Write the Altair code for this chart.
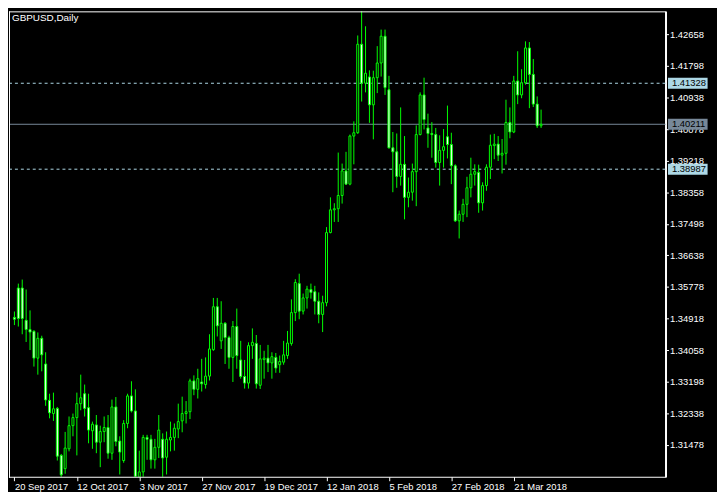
import json
import altair as alt
import pandas as pd

# ---- daily GBPUSD candles (bar index 0 = 20 Sep 2017) ----
opens = [1.3495, 1.3575, 1.3575, 1.3487, 1.3462, 1.3457, 1.3384, 1.3438, 1.3368, 1.3269,
         1.3233, 1.3247, 1.3119, 1.3083, 1.3137, 1.3200, 1.3222, 1.3260, 1.3287, 1.3249,
         1.3186, 1.3202, 1.3155, 1.3184, 1.3195, 1.3125, 1.3251, 1.3158, 1.3105, 1.3206,
         1.3281, 1.3240, 1.3060, 1.3074, 1.3168, 1.3163, 1.3107, 1.3141, 1.3163, 1.3114,
         1.3161, 1.3168, 1.3191, 1.3213, 1.3233, 1.3238, 1.3322, 1.3299, 1.3319, 1.3312,
         1.3335, 1.3407, 1.3524, 1.3431, 1.3479, 1.3440, 1.3386, 1.3470, 1.3379, 1.3334,
         1.3316, 1.3418, 1.3424, 1.3310, 1.3380, 1.3384, 1.3371, 1.3386, 1.3366, 1.3373,
         1.3391, 1.3424, 1.3508, 1.3587, 1.3512, 1.3548, 1.3571, 1.3565, 1.3539, 1.3503,
         1.3535, 1.3726, 1.3788, 1.3791, 1.3827, 1.3894, 1.3858, 1.3989, 1.3998, 1.4239,
         1.4133, 1.4150, 1.4074, 1.4148, 1.4188, 1.4261, 1.4115, 1.3957, 1.3946, 1.3879,
         1.3912, 1.3822, 1.3836, 1.3892, 1.3993, 1.4101, 1.4011, 1.3996, 1.3993, 1.3917,
         1.3950, 1.3987, 1.3966, 1.3908, 1.3758, 1.3776, 1.3803, 1.3848, 1.3885, 1.3890,
         1.3807, 1.3854, 1.3904, 1.3963, 1.3967, 1.3937, 1.3942, 1.4026, 1.4000, 1.4139,
         1.4101, 1.4134, 1.4229, 1.4157, 1.4076, 1.4017]
highs = [1.3511, 1.3587, 1.3598, 1.3571, 1.3514, 1.3460, 1.3454, 1.3445, 1.3400, 1.3287,
         1.3290, 1.3251, 1.3123, 1.3183, 1.3225, 1.3233, 1.3290, 1.3339, 1.3312, 1.3287,
         1.3211, 1.3229, 1.3200, 1.3225, 1.3229, 1.3271, 1.3278, 1.3171, 1.3215, 1.3287,
         1.3321, 1.3299, 1.3132, 1.3175, 1.3175, 1.3175, 1.3164, 1.3229, 1.3179, 1.3184,
         1.3211, 1.3206, 1.3260, 1.3279, 1.3267, 1.3328, 1.3337, 1.3355, 1.3382, 1.3386,
         1.3449, 1.3548, 1.3548, 1.3539, 1.3482, 1.3445, 1.3485, 1.3519, 1.3431, 1.3379,
         1.3427, 1.3465, 1.3447, 1.3420, 1.3404, 1.3420, 1.3400, 1.3398, 1.3391, 1.3431,
         1.3458, 1.3544, 1.3599, 1.3614, 1.3560, 1.3581, 1.3587, 1.3581, 1.3563, 1.3554,
         1.3741, 1.3822, 1.3806, 1.3944, 1.3914, 1.3946, 1.3993, 1.4029, 1.4263, 1.4346,
         1.4288, 1.4168, 1.4167, 1.4234, 1.4279, 1.4279, 1.4153, 1.4000, 1.3996, 1.4067,
         1.3989, 1.3876, 1.3914, 1.4018, 1.4108, 1.4148, 1.4050, 1.4027, 1.4011, 1.3991,
         1.4008, 1.4072, 1.3998, 1.3912, 1.3786, 1.3818, 1.3878, 1.3930, 1.3912, 1.3911,
         1.3863, 1.3912, 1.3993, 1.3995, 1.3989, 1.3981, 1.4088, 1.4067, 1.4153, 1.4220,
         1.4171, 1.4247, 1.4245, 1.4199, 1.4097, 1.4061]
lows = [1.3474, 1.3470, 1.3449, 1.3428, 1.3406, 1.3361, 1.3339, 1.3348, 1.3254, 1.3220,
        1.3213, 1.3105, 1.3027, 1.3069, 1.3130, 1.3171, 1.3119, 1.3242, 1.3225, 1.3152,
        1.3137, 1.3125, 1.3087, 1.3155, 1.3110, 1.3107, 1.3144, 1.3067, 1.3099, 1.3193,
        1.3236, 1.3040, 1.3040, 1.3052, 1.3107, 1.3083, 1.3083, 1.3112, 1.3058, 1.3067,
        1.3130, 1.3132, 1.3166, 1.3182, 1.3206, 1.3218, 1.3283, 1.3274, 1.3293, 1.3301,
        1.3323, 1.3404, 1.3443, 1.3409, 1.3368, 1.3355, 1.3319, 1.3355, 1.3328, 1.3301,
        1.3301, 1.3382, 1.3301, 1.3300, 1.3328, 1.3346, 1.3328, 1.3344, 1.3344, 1.3366,
        1.3382, 1.3418, 1.3485, 1.3490, 1.3503, 1.3519, 1.3546, 1.3503, 1.3479, 1.3455,
        1.3525, 1.3724, 1.3755, 1.3755, 1.3805, 1.3857, 1.3855, 1.3912, 1.3995, 1.4083,
        1.4108, 1.4025, 1.3980, 1.4106, 1.4151, 1.4101, 1.3955, 1.3836, 1.3848, 1.3854,
        1.3762, 1.3795, 1.3813, 1.3798, 1.3991, 1.4007, 1.3957, 1.3930, 1.3903, 1.3854,
        1.3903, 1.3928, 1.3858, 1.3755, 1.3710, 1.3755, 1.3768, 1.3822, 1.3854, 1.3780,
        1.3786, 1.3840, 1.3872, 1.3926, 1.3921, 1.3887, 1.3911, 1.3983, 1.3997, 1.4076,
        1.4092, 1.4129, 1.4065, 1.4068, 1.4011, 1.4011]
closes = [1.3490, 1.3492, 1.3492, 1.3462, 1.3455, 1.3384, 1.3438, 1.3393, 1.3270, 1.3235,
          1.3246, 1.3117, 1.3066, 1.3139, 1.3200, 1.3222, 1.3260, 1.3276, 1.3247, 1.3188,
          1.3204, 1.3155, 1.3184, 1.3195, 1.3125, 1.3251, 1.3157, 1.3128, 1.3206, 1.3281,
          1.3240, 1.3062, 1.3074, 1.3168, 1.3163, 1.3107, 1.3141, 1.3188, 1.3112, 1.3163,
          1.3168, 1.3193, 1.3211, 1.3233, 1.3238, 1.3322, 1.3299, 1.3328, 1.3314, 1.3335,
          1.3409, 1.3524, 1.3472, 1.3479, 1.3440, 1.3386, 1.3470, 1.3391, 1.3334, 1.3316,
          1.3418, 1.3427, 1.3314, 1.3382, 1.3384, 1.3371, 1.3388, 1.3357, 1.3375, 1.3393,
          1.3425, 1.3508, 1.3590, 1.3512, 1.3548, 1.3572, 1.3563, 1.3539, 1.3503, 1.3535,
          1.3726, 1.3788, 1.3791, 1.3827, 1.3894, 1.3858, 1.3989, 1.3998, 1.4239, 1.4133,
          1.4160, 1.4074, 1.4148, 1.4188, 1.4261, 1.4121, 1.3957, 1.3946, 1.3879, 1.3912,
          1.3822, 1.3836, 1.3892, 1.3993, 1.4101, 1.4034, 1.3996, 1.3993, 1.3917, 1.3950,
          1.3960, 1.3966, 1.3908, 1.3758, 1.3776, 1.3803, 1.3848, 1.3885, 1.3892, 1.3807,
          1.3854, 1.3904, 1.3964, 1.3967, 1.3937, 1.3942, 1.4026, 1.4000, 1.4139, 1.4101,
          1.4134, 1.4229, 1.4157, 1.4076, 1.4017, 1.4021]

date_labels = ["20 Sep 2017", "12 Oct 2017", "3 Nov 2017", "27 Nov 2017", "19 Dec 2017",
               "12 Jan 2018", "5 Feb 2018", "27 Feb 2018", "21 Mar 2018"]
date_tick_bars = [0, 16, 32, 48, 64, 80, 96, 112, 128]
price_ticks = [1.31478, 1.32338, 1.33198, 1.34058, 1.34918, 1.35778, 1.36638,
               1.37498, 1.38358, 1.39218, 1.40078, 1.40938, 1.41798, 1.42658]
dashed_levels = [1.41328, 1.38987]
solid_levels = [1.40211]

LIME = "#00FF00"
LEVEL_BLUE = "#ADD8E6"
LEVEL_GREY = "#778899"
FONT = "Liberation Sans"
W, H = 663, 470

candles = pd.DataFrame({"i": list(range(len(opens))), "o": opens, "h": highs,
                        "l": lows, "c": closes})
levels = pd.DataFrame({
    "p": dashed_levels + solid_levels,
    "col": [LEVEL_BLUE] * len(dashed_levels) + [LEVEL_GREY] * len(solid_levels),
})
dashed_df = pd.DataFrame({"p": dashed_levels})
solid_df = pd.DataFrame({"p": solid_levels})
title_df = pd.DataFrame({"t": ["GBPUSD,Daily"]})

# 4 px per bar, bar centres on pixel centres (half-pixel offset)
xscale = alt.Scale(domain=[-0.125, 165.625], nice=False, zero=False)
yscale = alt.Scale(domain=[1.30608, 1.43287], nice=False, zero=False)

label_expr = json.dumps(date_labels).replace('"', "'") + "[round(datum.value/16)]"
xaxis = alt.Axis(values=date_tick_bars, labelExpr=label_expr, title=None, grid=False,
                 orient="bottom", domain=False, tickColor="white",
                 tickSize=4, labelColor="white", labelFont=FONT, labelFontSize=9.5,
                 labelAlign="left", labelBaseline="top", labelPadding=1,
                 labelFlush=False, labelOverlap=False, labelBound=False, zindex=0)
yaxis = alt.Axis(values=price_ticks, format=".5f", title=None, grid=False,
                 orient="right", domain=True, domainColor="white", domainWidth=2,
                 tickColor="white", tickSize=3, labelColor="white", labelFont=FONT,
                 labelFontSize=9.5, labelPadding=1, labelFlush=False,
                 labelOverlap=False, labelBound=False, zindex=0)

x_enc = alt.X("i:Q", scale=xscale, axis=xaxis)

dashed = alt.Chart(dashed_df).mark_rule(color=LEVEL_BLUE, strokeWidth=1,
                                         strokeDash=[3, 3]).encode(
    y=alt.Y("p:Q", scale=yscale, axis=yaxis))
solid = alt.Chart(solid_df).mark_rule(color=LEVEL_GREY, strokeWidth=1).encode(
    y=alt.Y("p:Q", scale=yscale, axis=yaxis))

wicks = alt.Chart(candles).mark_rule(color=LIME, strokeWidth=1, clip=True).encode(
    x=x_enc,
    y=alt.Y("l:Q", scale=yscale, axis=yaxis),
    y2="h:Q",
)
bodies = alt.Chart(candles).mark_bar(size=2, stroke=LIME, strokeWidth=1,
                                      clip=True).encode(
    x=x_enc,
    y=alt.Y("o:Q", scale=yscale, axis=yaxis),
    y2="c:Q",
    fill=alt.condition("datum.c < datum.o", alt.value("white"), alt.value("black")),
)

boxes = alt.Chart(levels).mark_point(shape="M-20,-5.5H20V5.5H-20Z", size=4,
                                      filled=True, opacity=1, strokeWidth=0).encode(
    x=alt.value(685.5),
    y=alt.Y("p:Q", scale=yscale, axis=yaxis),
    color=alt.Color("col:N", scale=None),
)
box_text = alt.Chart(levels).mark_text(align="left", baseline="middle", font=FONT,
                                        fontSize=9.5, color="black").encode(
    x=alt.value(669.5),
    y=alt.Y("p:Q", scale=yscale, axis=yaxis),
    text=alt.Text("p:Q", format=".5f"),
)

title = alt.Chart(title_df).mark_text(align="left", baseline="alphabetic", font=FONT,
                                       fontSize=10, color="white").encode(
    x=alt.value(3), y=alt.value(10), text="t:N")

# crisp 1px frame (left, top, bottom); right side is the price-axis line
frame_left = alt.Chart(title_df).mark_rule(color="white", strokeWidth=1).encode(
    x=alt.value(0.5), y=alt.value(0), y2=alt.value(H + 1))
frame_top = alt.Chart(title_df).mark_rule(color="white", strokeWidth=1).encode(
    x=alt.value(0), x2=alt.value(W + 1), y=alt.value(0.5))
frame_bottom = alt.Chart(title_df).mark_rule(color="white", strokeWidth=1).encode(
    x=alt.value(0), x2=alt.value(W + 1), y=alt.value(H + 0.5))

chart = alt.layer(dashed, solid, wicks, bodies, boxes, box_text, title,
                  frame_left, frame_top, frame_bottom).properties(
    width=W, height=H,
    padding={"left": 1, "top": 1, "right": 52, "bottom": 13},
    autosize=alt.AutoSizeParams(type="none"),
).configure(background="black").configure_view(stroke="transparent", strokeWidth=0)

chart.save("out.html", embed_options={"renderer": "svg", "actions": False})
